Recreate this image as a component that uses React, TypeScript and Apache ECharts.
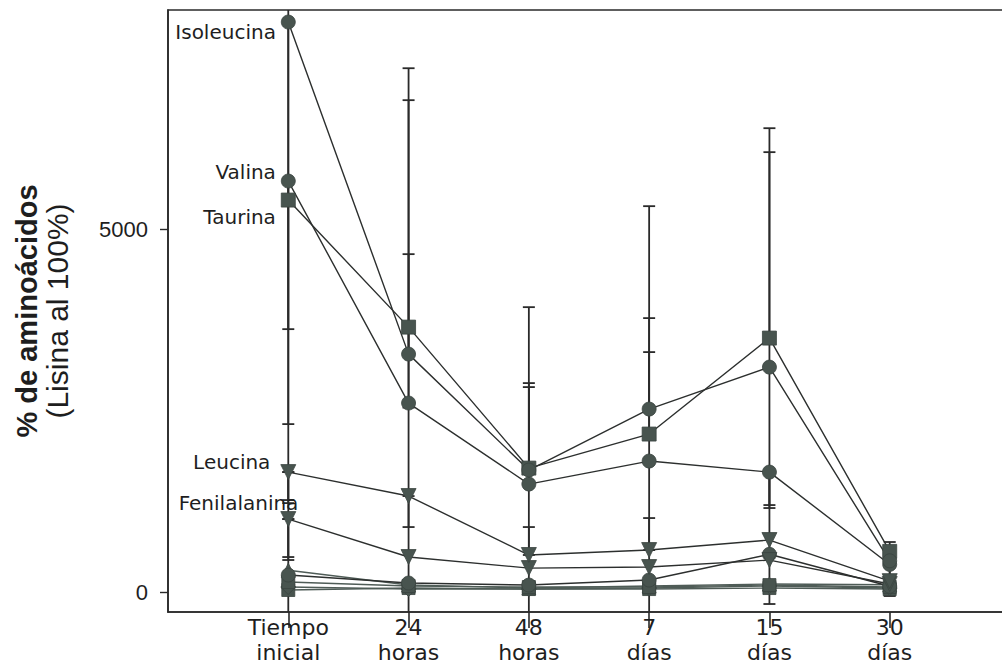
import React, { useEffect, useRef } from "react";
import * as echarts from "echarts";

// ---- data ----
const categories = ["Tiempo\ninicial", "24\nhoras", "48\nhoras", "7\ndías", "15\ndías", "30\ndías"];
const xPositions = [1, 2, 3, 4, 5, 6];
const yTickValues = [0, 5000];

const isoleucina = [7851, 3277, 1680, 2520, 3098, 430];
const valina = [5661, 2603, 1487, 1804, 1652, 380];
const taurina = [5399, 3649, 1707, 2176, 3498, 560];
const leucina = [1652, 1322, 510, 578, 716, 150];
const fenilalanina = [1005, 482, 330, 344, 440, 110];
const serieA = [234, 124, 96, 165, 520, 80];
const serieB = [138, 83, 69, 69, 96, 70];
const serieC = [300, 96, 55, 83, 110, 100];
const serieD = [69, 41, 41, 55, 83, 55];
const serieE = [28, 55, 41, 41, 55, 41];

// error bars: [x position, low, high]
const errorBars = [
  [1, -400, 8600], [1, 3621, 7851], [1, 2313, 5661], [1, 1267, 1652], [1, 1225, 1652], [1, 482, 1005], [1, 441, 1005],
  [2, -400, 7215], [2, 3277, 6775], [2, 2603, 4654], [2, 2540, 2603], [2, 895, 1322],
  [3, -400, 3924], [3, 1680, 2878], [3, 1487, 2823], [3, 510, 895],
  [4, -400, 5315], [4, 2520, 3773], [4, 2176, 3305], [4, 578, 1019],
  [5, -165, 6389], [5, 3498, 6059], [5, 1198, 1652], [5, 1157, 1652],
  [6, -55, 689], [6, 150, 606],
];

const MARK = "#48544f";
const LINE = "#2c2f2e";
const LINE2 = "#4f5c57";
const TEXT = "#1e1e1e";

function pts(vals: number[]) {
  return vals.map((v, i) => [xPositions[i], v]);
}

function withLabel(vals: number[], name: string, offset: number[]) {
  const d: any[] = pts(vals);
  d[0] = {
    value: d[0],
    label: {
      show: true,
      formatter: name,
      position: "left",
      distance: 5,
      offset,
      fontFamily: "DejaVu Sans",
      fontSize: 20,
      color: TEXT,
    },
  };
  return d;
}

function lineSeries(name: string, data: any[], symbol: string, size: number, lineColor: string, rotate = 0) {
  return {
    name,
    type: "line",
    data,
    symbol,
    symbolSize: size,
    symbolRotate: rotate,
    showSymbol: true,
    lineStyle: { color: lineColor, width: 1.4 },
    itemStyle: { color: MARK, borderColor: "#3a4440", borderWidth: 0.8 },
    z: 3,
    clip: false,
  };
}

export default function App() {
  const ref = useRef<HTMLDivElement>(null);
  useEffect(() => {
    if (!ref.current) return;
    const chart = echarts.init(ref.current, null, { renderer: "svg" });
    const option: any = {
      animation: false,
      backgroundColor: "#ffffff",
      grid: {
        left: 168,
        top: 10,
        right: 0,
        bottom: 57,
        show: true,
        borderColor: "#2a2a2a",
        borderWidth: 1.6,
        backgroundColor: "transparent",
      },
      xAxis: {
        type: "value",
        min: 0,
        max: 7,
        interval: 1,
        splitLine: { show: false },
        axisLine: { show: true, onZero: false, lineStyle: { color: "#2a2a2a", width: 1.6 } },
        axisTick: {
          show: true,
          customValues: xPositions,
          length: 16,
          lineStyle: { color: "#2a2a2a", width: 1.6 },
        },
        axisLabel: {
          customValues: xPositions,
          formatter: (v: number) => categories[Math.round(v) - 1] ?? "",
          fontFamily: "DejaVu Sans",
          fontSize: 22,
          lineHeight: 25,
          color: TEXT,
          margin: 3,
        },
      },
      yAxis: {
        type: "value",
        min: -275,
        max: 8017,
        splitLine: { show: false },
        axisLine: { show: true, lineStyle: { color: "#2a2a2a", width: 1.6 } },
        axisTick: {
          show: true,
          customValues: yTickValues,
          length: 8,
          lineStyle: { color: "#2a2a2a", width: 1.4 },
        },
        axisLabel: {
          customValues: yTickValues,
          formatter: (v: number) => String(v),
          fontFamily: "Liberation Sans",
          fontSize: 22,
          color: TEXT,
          margin: 20,
        },
      },
      graphic: [
        {
          type: "text",
          x: 27,
          y: 311,
          rotation: Math.PI / 2,
          style: {
            text: "% de aminoácidos",
            font: 'bold 29px "Liberation Sans"',
            fill: TEXT,
            textAlign: "center",
            textVerticalAlign: "middle",
          },
        },
        {
          type: "text",
          x: 57,
          y: 311,
          rotation: Math.PI / 2,
          style: {
            text: "(Lisina al 100%)",
            font: '30px "Liberation Sans"',
            fill: TEXT,
            textAlign: "center",
            textVerticalAlign: "middle",
          },
        },
      ],
      series: [
        {
          type: "custom",
          name: "errores",
          data: errorBars,
          encode: { x: 0, y: [1, 2] },
          clip: true,
          z: 2,
          renderItem: (params: any, api: any) => {
            const x = api.value(0);
            const lo = api.value(1);
            const hi = api.value(2);
            const top = api.coord([x, hi]);
            const bot = api.coord([x, lo]);
            const w = 6;
            const st = { stroke: "#2a2a2a", lineWidth: 1.8 };
            return {
              type: "group",
              children: [
                { type: "line", shape: { x1: top[0], y1: top[1], x2: bot[0], y2: bot[1] }, style: st },
                { type: "line", shape: { x1: top[0] - w, y1: top[1], x2: top[0] + w, y2: top[1] }, style: st },
                { type: "line", shape: { x1: bot[0] - w, y1: bot[1], x2: bot[0] + w, y2: bot[1] }, style: st },
              ],
            };
          },
        },
        lineSeries("serieE", pts(serieE), "rect", 13, LINE2),
        lineSeries("serieD", pts(serieD), "diamond", 15, LINE2),
        lineSeries("serieC", pts(serieC), "triangle", 14, LINE2),
        lineSeries("serieB", pts(serieB), "rect", 13, LINE2),
        lineSeries("serieA", pts(serieA), "circle", 14, LINE),
        lineSeries("Fenilalanina", withLabel(fenilalanina, "Fenilalanina", [23, -16]), "triangle", 15, LINE, 180),
        lineSeries("Leucina", withLabel(leucina, "Leucina", [-5, -10]), "triangle", 15, LINE, 180),
        lineSeries("Taurina", withLabel(taurina, "Taurina", [0, 17]), "rect", 14, LINE),
        lineSeries("Valina", withLabel(valina, "Valina", [0, -9]), "circle", 14, LINE),
        lineSeries("Isoleucina", withLabel(isoleucina, "Isoleucina", [0, 10]), "circle", 14, LINE),
      ],
    };
    chart.setOption(option);
    return () => chart.dispose();
  }, []);
  return (
    <div
      ref={ref}
      style={{ position: "fixed", left: 0, top: 0, width: 1010, height: 669, background: "#fff" }}
    />
  );
}
